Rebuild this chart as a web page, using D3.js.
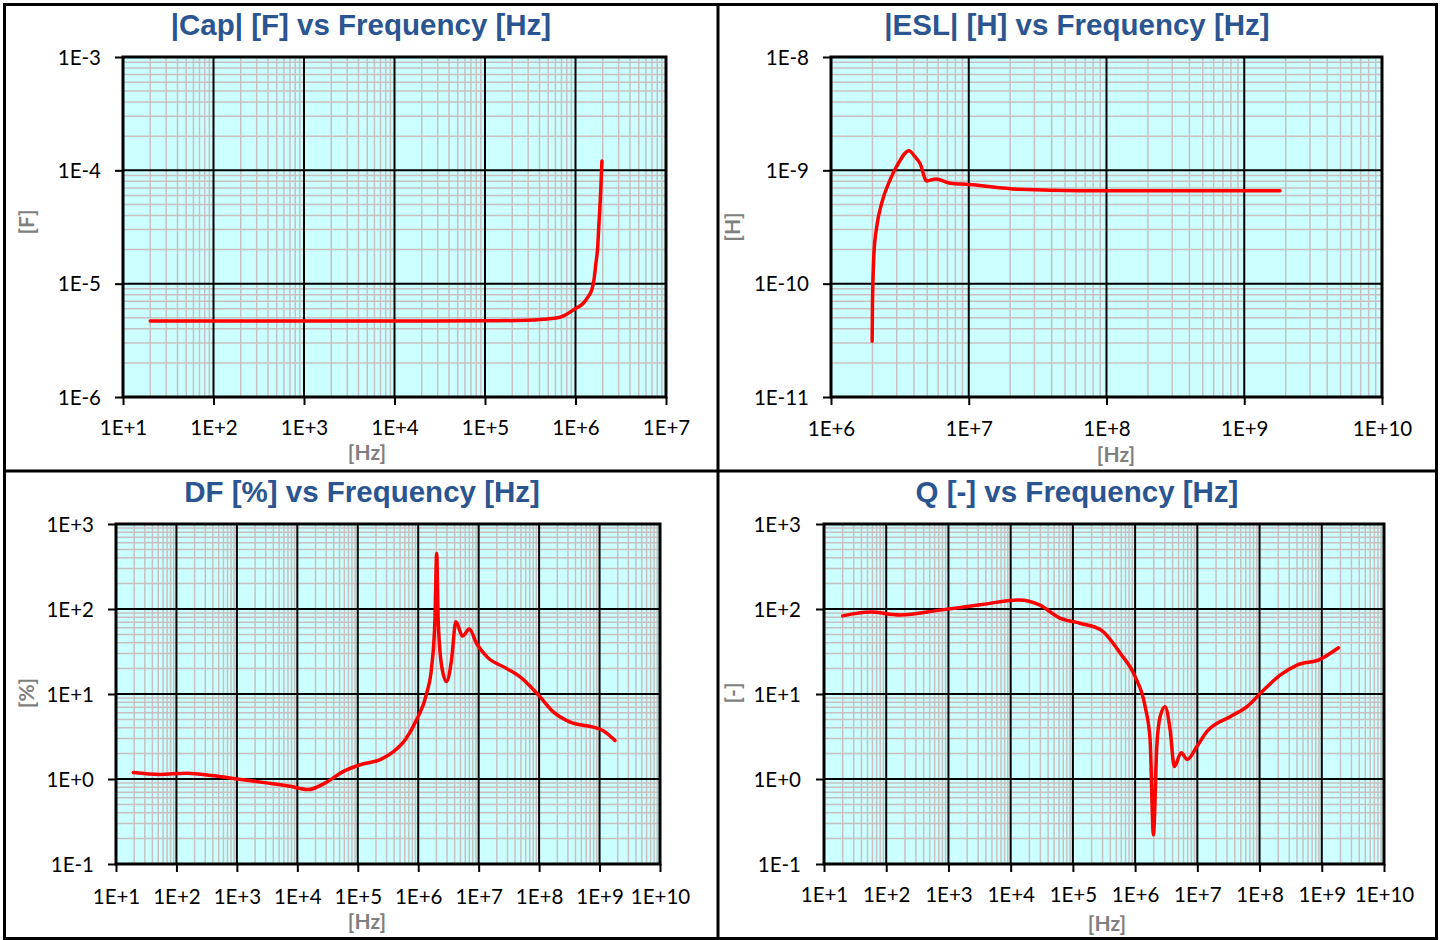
<!DOCTYPE html>
<html>
<head>
<meta charset="utf-8">
<script src="https://cdn.jsdelivr.net/npm/d3@7/dist/d3.min.js"></script>
<style>
html,body{margin:0;padding:0;background:#fff;}
svg{display:block;}
</style>
</head>
<body>
<svg id="chart" width="1445" height="940"></svg>
<script>
// ---------- DATA ----------
const capFreq   = [20, 100, 1e3, 1e4, 1e5, 2.89e5, 4.4e5, 6.74e5, 1.01e6, 1.22e6, 1.38e6, 1.51e6, 1.6e6, 1.68e6, 1.76e6, 1.8e6, 1.89e6, 1.96e6];
const capValues = [4.68e-6, 4.68e-6, 4.68e-6, 4.68e-6, 4.7e-6, 4.75e-6, 4.85e-6, 5.05e-6, 6.06e-6, 6.72e-6, 7.68e-6, 8.8e-6, 1.08e-5, 1.51e-5, 2.12e-5, 2.97e-5, 6.05e-5, 1.21e-4];

const eslFreq   = [1.99e6, 2.0e6, 2.05e6, 2.15e6, 2.33e6, 2.68e6, 3.08e6, 3.68e6, 4.07e6, 4.43e6, 4.95e6, 5.78e6, 7.3e6, 1e7, 2.36e7, 6.4e7, 2e8, 1e9, 1.82e9];
const eslValues = [3.1e-11, 6.3e-11, 1.85e-10, 3.2e-10, 5.1e-10, 8.2e-10, 1.15e-9, 1.49e-9, 1.32e-9, 1.15e-9, 8.05e-10, 8.4e-10, 7.7e-10, 7.5e-10, 6.8e-10, 6.6e-10, 6.6e-10, 6.6e-10, 6.6e-10];

const dfFreq   = [19.3, 53, 148, 410, 1e3, 3.1e3, 7.6e3, 1.5e4, 2.9e4, 5.8e4, 1.1e5, 2.35e5, 3.9e5, 6.1e5, 9.4e5, 1.38e6, 1.67e6, 1.89e6, 2.02e6, 2.14e6, 2.45e6, 2.95e6, 3.55e6, 4.2e6, 5.4e6, 7e6, 9.3e6, 1.36e7, 2.9e7, 4.8e7, 1.03e8, 1.7e8, 3.2e8, 7.9e8, 1.15e9, 1.8e9];
const dfValues = [1.19, 1.13, 1.17, 1.09, 1.0, 0.90, 0.82, 0.75, 0.90, 1.23, 1.47, 1.69, 2.1, 2.9, 4.97, 10.2, 21, 74, 450, 74, 21, 14, 25, 71, 48, 58, 39, 27.5, 20, 16, 9.3, 6.2, 4.7, 4.07, 3.7, 2.84];

const qFreq   = [20, 55, 166, 730, 3.2e3, 1.4e4, 2.9e4, 6.2e4, 1.3e5, 2.8e5, 5.8e5, 1e6, 1.45e6, 1.74e6, 1.97e6, 2.23e6, 2.52e6, 3.03e6, 3.65e6, 4.27e6, 5.5e6, 6.9e6, 9.8e6, 1.42e7, 3.36e7, 6.3e7, 1.03e8, 2.14e8, 4e8, 9.4e8, 1.85e9];
const qValues = [83, 92, 85, 97, 112, 128, 112, 78, 68, 57, 30, 16, 7.1, 2.9, 0.22, 2.4, 5.4, 7.1, 3.8, 1.4, 2.04, 1.7, 2.4, 3.6, 5.4, 7.1, 10.2, 16.7, 21.9, 25.6, 35];

// tick labels
const capXTicks = ["1E+1","1E+2","1E+3","1E+4","1E+5","1E+6","1E+7"];
const capYTicks = ["1E-3","1E-4","1E-5","1E-6"];
const eslXTicks = ["1E+6","1E+7","1E+8","1E+9","1E+10"];
const eslYTicks = ["1E-8","1E-9","1E-10","1E-11"];
const dfXTicks  = ["1E+1","1E+2","1E+3","1E+4","1E+5","1E+6","1E+7","1E+8","1E+9","1E+10"];
const dfYTicks  = ["1E+3","1E+2","1E+1","1E+0","1E-1"];
const qXTicks   = dfXTicks;
const qYTicks   = dfYTicks;

const titles = ["|Cap| [F] vs Frequency [Hz]", "|ESL| [H] vs Frequency [Hz]", "DF [%] vs Frequency [Hz]", "Q [-] vs Frequency [Hz]"];
const yUnits = ["[F]", "[H]", "[%]", "[-]"];
const xUnit = "[Hz]";

// ---------- LAYOUT ----------
const panels = [
  {title: titles[0], xt: capXTicks, yt: capYTicks, fx: capFreq, fy: capValues, yUnit: yUnits[0],
   L:123, R:666, T:57, B:397, titleX:361, titleY:35, xUnitX:367, xUnitY:460, yUnitX:27, yUnitY:222, xLabY:435, yLabX:101},
  {title: titles[1], xt: eslXTicks, yt: eslYTicks, fx: eslFreq, fy: eslValues, yUnit: yUnits[1],
   L:831, R:1382, T:57, B:397, titleX:1077, titleY:35, xUnitX:1116, xUnitY:462, yUnitX:733, yUnitY:227, xLabY:436, yLabX:809},
  {title: titles[2], xt: dfXTicks, yt: dfYTicks, fx: dfFreq, fy: dfValues, yUnit: yUnits[2],
   L:116, R:660, T:524, B:864, titleX:362, titleY:502, xUnitX:367, xUnitY:929, yUnitX:27, yUnitY:693, xLabY:904, yLabX:94},
  {title: titles[3], xt: qXTicks, yt: qYTicks, fx: qFreq, fy: qValues, yUnit: yUnits[3],
   L:824, R:1384, T:524, B:864, titleX:1077, titleY:502, xUnitX:1107, xUnitY:931, yUnitX:733, yUnitY:693, xLabY:902, yLabX:801}
];

const svg = d3.select("#chart");
const FONT = "Lato, 'Open Sans', sans-serif";

// outer frame and dividers
svg.append("rect").attr("x",4.5).attr("y",4.5).attr("width",1432).attr("height",934)
   .attr("fill","none").attr("stroke","#000").attr("stroke-width",3);
svg.append("line").attr("x1",4).attr("x2",1437).attr("y1",471).attr("y2",471).attr("stroke","#000").attr("stroke-width",3);
svg.append("line").attr("x1",718).attr("x2",718).attr("y1",4).attr("y2",939).attr("stroke","#000").attr("stroke-width",3);

panels.forEach(p => {
  const xv = p.xt.map(Number), yv = p.yt.map(Number);
  const x = d3.scaleLog().domain([d3.min(xv), d3.max(xv)]).range([p.L, p.R]);
  const y = d3.scaleLog().domain([d3.min(yv), d3.max(yv)]).range([p.B, p.T]);
  const g = svg.append("g");

  // background
  g.append("rect").attr("x",p.L).attr("y",p.T).attr("width",p.R-p.L).attr("height",p.B-p.T).attr("fill","#ccffff");

  // minor grid
  const minorX = [], minorY = [];
  const x0 = Math.round(Math.log10(d3.min(xv))), x1 = Math.round(Math.log10(d3.max(xv)));
  for (let d = x0; d < x1; d++) for (let k = 2; k <= 9; k++) minorX.push(k * Math.pow(10, d));
  const y0 = Math.round(Math.log10(d3.min(yv))), y1 = Math.round(Math.log10(d3.max(yv)));
  for (let d = y0; d < y1; d++) for (let k = 2; k <= 9; k++) minorY.push(k * Math.pow(10, d));
  g.selectAll(".mx").data(minorX).join("line")
    .attr("x1",d=>x(d)).attr("x2",d=>x(d)).attr("y1",p.T).attr("y2",p.B)
    .attr("stroke","#c8c0c0").attr("stroke-width",1.5);
  g.selectAll(".my").data(minorY).join("line")
    .attr("y1",d=>y(d)).attr("y2",d=>y(d)).attr("x1",p.L).attr("x2",p.R)
    .attr("stroke","#c8c0c0").attr("stroke-width",1.5);
  // major grid
  g.selectAll(".Mx").data(xv).join("line")
    .attr("x1",d=>x(d)).attr("x2",d=>x(d)).attr("y1",p.T).attr("y2",p.B)
    .attr("stroke","#000").attr("stroke-width",2);
  g.selectAll(".My").data(yv).join("line")
    .attr("y1",d=>y(d)).attr("y2",d=>y(d)).attr("x1",p.L).attr("x2",p.R)
    .attr("stroke","#000").attr("stroke-width",2);

  // data line
  const line = d3.line().x((d,i)=>x(p.fx[i])).y((d,i)=>y(p.fy[i])).curve(d3.curveMonotoneX);
  g.append("path").datum(p.fy).attr("d", line).attr("fill","none")
    .attr("stroke","#ff0000").attr("stroke-width",3.5).attr("stroke-linejoin","round").attr("stroke-linecap","round");

  // plot frame
  g.append("rect").attr("x",p.L).attr("y",p.T).attr("width",p.R-p.L).attr("height",p.B-p.T)
    .attr("fill","none").attr("stroke","#000").attr("stroke-width",3);

  // axes
  const ax = g.append("g").attr("transform",`translate(0,${p.B})`)
    .call(d3.axisBottom(x).tickValues(xv).tickFormat((d,i)=>p.xt[i]).tickSize(8).tickPadding(0));
  ax.select(".domain").remove();
  ax.selectAll(".tick line").attr("stroke","#000").attr("stroke-width",2);
  ax.selectAll(".tick text").attr("y", p.xLabY - p.B).attr("dy",0)
    .attr("font-family",FONT).attr("font-size",20.5).attr("fill","#000");

  const ay = g.append("g").attr("transform",`translate(${p.L},0)`)
    .call(d3.axisLeft(y).tickValues(yv).tickFormat((d,i)=>p.yt[i]).tickSize(8).tickPadding(0));
  ay.select(".domain").remove();
  ay.selectAll(".tick line").attr("stroke","#000").attr("stroke-width",2);
  ay.selectAll(".tick text").attr("x", p.yLabX - p.L).attr("dy","0.35em")
    .attr("font-family",FONT).attr("font-size",20.5).attr("fill","#000");

  // title
  g.append("text").attr("x",p.titleX).attr("y",p.titleY).attr("text-anchor","middle")
    .attr("font-family","'Liberation Sans', Arial, sans-serif").attr("font-weight","bold")
    .attr("font-size",29.5).attr("fill","#2a5590").text(p.title);

  // units
  g.append("text").attr("x",p.xUnitX).attr("y",p.xUnitY).attr("text-anchor","middle")
    .attr("font-family",FONT).attr("font-weight","bold").attr("font-size",21).attr("fill","#7f7f7f").text(xUnit);
  g.append("text").attr("transform",`translate(${p.yUnitX},${p.yUnitY}) rotate(-90)`)
    .attr("text-anchor","middle").attr("dy","0.35em")
    .attr("font-family",FONT).attr("font-weight","bold").attr("font-size",21).attr("fill","#7f7f7f").text(p.yUnit);
});
</script>
</body>
</html>
